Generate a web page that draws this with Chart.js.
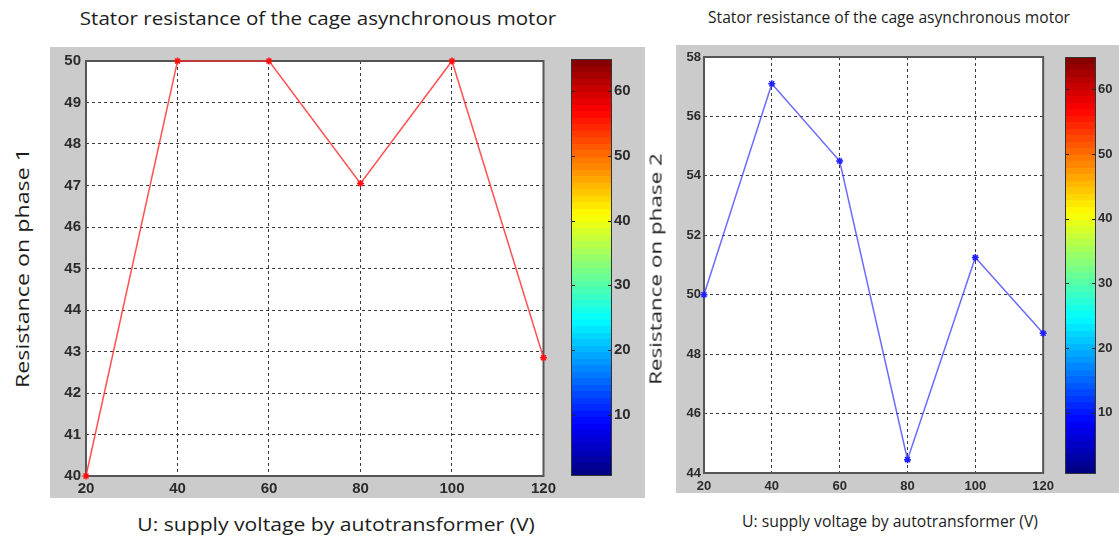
<!DOCTYPE html>
<html>
<head>
<meta charset="utf-8">
<script src="https://cdn.jsdelivr.net/npm/chart.js@4"></script>
<style>
  body { margin: 0; background: #fff; }
  #page { position: relative; width: 1119px; height: 541px; overflow: hidden; background: #fff; }
  .panel { position: absolute; background: #cbcbcb; }
  canvas { position: absolute; }
  .txt { position: absolute; white-space: nowrap; font-family: 'Open Sans', sans-serif; color: #1c1c1c; line-height: 1; }
</style>
</head>
<body>
<div id="page">
  <div class="panel" style="left:50px;top:47px;width:595px;height:451px"></div>
  <div class="panel" style="left:676px;top:45px;width:443px;height:448px"></div>

  <canvas id="plot1" width="510" height="451" style="left:50px;top:47px"></canvas>
  <canvas id="bar1" width="85" height="451" style="left:560px;top:47px"></canvas>
  <canvas id="plot2" width="384" height="448" style="left:676px;top:45px"></canvas>
  <canvas id="bar2" width="59" height="448" style="left:1060px;top:45px"></canvas>

  <div class="txt" data-cx="318" data-cy="18" data-w="476" style="font-size:18px">Stator resistance of the cage asynchronous motor</div>
  <div class="txt" data-cx="889" data-cy="17" data-w="362" style="font-size:16px">Stator resistance of the cage asynchronous motor</div>
  <div class="txt" data-cx="22" data-cy="268" data-w="240" data-rot="1" style="font-size:18px">Resistance on phase 1</div>
  <div class="txt" data-cx="655" data-cy="269" data-w="232" data-rot="1" style="font-size:17px">Resistance on phase 2</div>
  <div class="txt" data-cx="336" data-cy="524" data-w="398" style="font-size:18px">U: supply voltage by autotransformer (V)</div>
  <div class="txt" data-cx="890" data-cy="521" data-w="296" style="font-size:16px">U: supply voltage by autotransformer (V)</div>
</div>

<script>
// data
var voltages = [20, 40, 60, 80, 100, 120];
var phase1 = [40, 50, 50, 47.05, 50, 42.85];
var phase2 = [50, 57.1, 54.5, 44.45, 51.25, 48.7];

var phase1Ticks = [40, 41, 42, 43, 44, 45, 46, 47, 48, 49, 50];
var phase2Ticks = [44, 46, 48, 50, 52, 54, 56, 58];
var voltageTicks = [20, 40, 60, 80, 100, 120];
var colorbarTicks = [10, 20, 30, 40, 50, 60];
var colorbarRange = [0.5, 65];

// place the html texts
document.querySelectorAll('.txt').forEach(function (el) {
  var k = el.dataset.w / el.offsetWidth;
  el.style.left = el.dataset.cx + 'px';
  el.style.top = el.dataset.cy + 'px';
  var rot = el.dataset.rot ? ' rotate(-90deg)' : '';
  el.style.transform = 'translate(-50%,-50%)' + rot + ' scaleX(' + k + ')';
});

function jet(t) {
  var c = function (v) { return Math.round(255 * Math.max(0, Math.min(1, v))); };
  return 'rgb(' + c(1.5 - Math.abs(4 * t - 3)) + ',' + c(1.5 - Math.abs(4 * t - 2)) + ',' + c(1.5 - Math.abs(4 * t - 1)) + ')';
}

// white axes area + matlab style box
var boxPlugin = {
  id: 'box',
  beforeDraw: function (chart) {
    var a = chart.chartArea, ctx = chart.ctx;
    ctx.save();
    ctx.fillStyle = '#fff';
    ctx.fillRect(a.left, a.top, a.right - a.left, a.bottom - a.top);
    ctx.restore();
  },
  beforeDatasetsDraw: function (chart) {
    var a = chart.chartArea, ctx = chart.ctx;
    ctx.save();
    ctx.strokeStyle = '#555';
    ctx.lineWidth = 2;
    ctx.strokeRect(a.left, a.top, a.right - a.left, a.bottom - a.top);
    ctx.restore();
  }
};

var cbTickPlugin = {
  id: 'cbticks',
  afterDraw: function (chart) {
    var a = chart.chartArea, ctx = chart.ctx, y = chart.scales.y;
    ctx.save();
    ctx.strokeStyle = '#222';
    ctx.lineWidth = 1;
    colorbarTicks.forEach(function (v) {
      var py = Math.round(y.getPixelForValue(v)) + 0.5;
      ctx.beginPath();
      ctx.moveTo(a.left, py); ctx.lineTo(a.left + 4, py);
      ctx.moveTo(a.right - 4, py); ctx.lineTo(a.right, py);
      ctx.stroke();
    });
    ctx.strokeStyle = '#333';
    ctx.strokeRect(a.left + 0.5, a.top + 0.5, a.right - a.left - 1, a.bottom - a.top - 1);
    ctx.restore();
  }
};

function linePlot(id, values, yTicks, color, pad, yWidth, xHeight, tickFont, tickPad) {
  var pts = voltages.map(function (v, i) { return { x: v, y: values[i] }; });
  return new Chart(document.getElementById(id), {
    type: 'line',
    data: {
      datasets: [{
        data: pts,
        borderColor: color.line,
        borderWidth: 1.5,
        pointStyle: 'star',
        pointRadius: 3.5,
        pointBorderWidth: 1.5,
        pointBorderColor: color.point,
        pointBackgroundColor: color.point,
        tension: 0,
        clip: false
      }]
    },
    options: {
      responsive: false,
      animation: false,
      devicePixelRatio: 1,
      layout: { padding: pad },
      plugins: { legend: { display: false }, tooltip: { enabled: false } },
      scales: {
        x: {
          type: 'linear',
          min: voltageTicks[0],
          max: voltageTicks[voltageTicks.length - 1],
          afterBuildTicks: function (s) { s.ticks = voltageTicks.map(function (v) { return { value: v }; }); },
          afterFit: function (s) { s.height = xHeight; },
          grid: { color: '#3a3a3a', lineWidth: 1, drawTicks: false },
          border: { display: false, dash: [3, 3] },
          ticks: { color: '#2b2b2b', font: tickFont, padding: tickPad.x, maxRotation: 0, autoSkip: false }
        },
        y: {
          min: yTicks[0],
          max: yTicks[yTicks.length - 1],
          afterBuildTicks: function (s) { s.ticks = yTicks.map(function (v) { return { value: v }; }); },
          afterFit: function (s) { s.width = yWidth; },
          grid: { color: '#3a3a3a', lineWidth: 1, drawTicks: false },
          border: { display: false, dash: [3, 3] },
          ticks: { color: '#2b2b2b', font: tickFont, padding: tickPad.y, autoSkip: false }
        }
      }
    },
    plugins: [boxPlugin]
  });
}

function colorbar(id, pad, yWidth, tickFont) {
  return new Chart(document.getElementById(id), {
    type: 'bar',
    data: {
      labels: [''],
      datasets: [{
        data: [colorbarRange],
        barPercentage: 1,
        categoryPercentage: 1,
        borderWidth: 0,
        backgroundColor: function (ctx) {
          var chart = ctx.chart;
          if (!chart.chartArea) return 'blue';
          var y = chart.scales.y;
          var g = chart.ctx.createLinearGradient(0, y.getPixelForValue(colorbarRange[0]), 0, y.getPixelForValue(colorbarRange[1]));
          for (var i = 0; i < 64; i++) {
            var c = jet((i + 0.5) / 64);
            g.addColorStop(i / 64, c);
            g.addColorStop((i + 1) / 64, c);
          }
          return g;
        }
      }]
    },
    options: {
      responsive: false,
      animation: false,
      devicePixelRatio: 1,
      layout: { padding: pad },
      plugins: { legend: { display: false }, tooltip: { enabled: false } },
      scales: {
        x: { display: false },
        y: {
          position: 'right',
          min: colorbarRange[0],
          max: colorbarRange[1],
          afterBuildTicks: function (s) { s.ticks = colorbarTicks.map(function (v) { return { value: v }; }); },
          afterFit: function (s) { s.width = yWidth; },
          grid: { display: false, drawTicks: false },
          border: { display: false },
          ticks: { color: '#2b2b2b', font: tickFont, padding: 2 }
        }
      }
    },
    plugins: [cbTickPlugin]
  });
}

var leftFont = { family: "'Liberation Sans', Arial, sans-serif", size: 15, weight: 'bold' };
var rightFont = { family: "'Liberation Sans', Arial, sans-serif", size: 13, weight: 'bold' };

linePlot('plot1', phase1, phase1Ticks, { line: 'rgba(255,40,40,0.8)', point: '#ff1010' },
  { left: 0, top: 12, right: 16, bottom: 0 }, 36, 22, leftFont, { x: 4, y: 5 });
colorbar('bar1', { left: 11, top: 12, right: 0, bottom: 22 }, 33, leftFont);

linePlot('plot2', phase2, phase2Ticks, { line: 'rgba(70,70,255,0.8)', point: '#2020ff' },
  { left: 0, top: 12, right: 15, bottom: 0 }, 28, 20, rightFont, { x: 6, y: 3 });
colorbar('bar2', { left: 5, top: 12, right: 0, bottom: 19 }, 23, rightFont);
</script>
</body>
</html>
